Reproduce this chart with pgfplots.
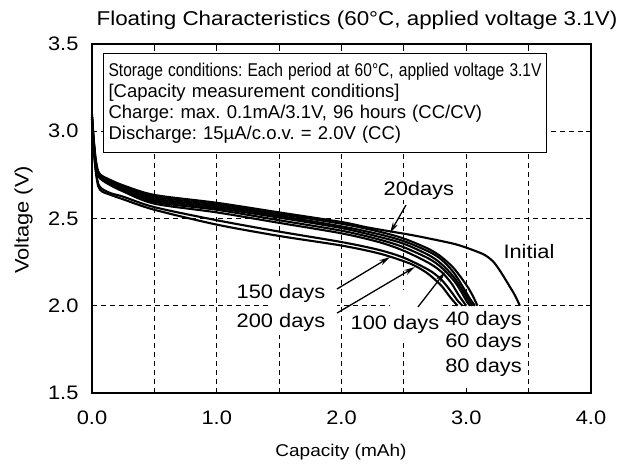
\documentclass[border=0pt]{standalone}
\usepackage{fontspec}
\setmainfont{Liberation Sans}
\newfontfamily\wide{Liberation Sans}[FakeStretch=1.12]
\usepackage{pgfplots}
\pgfplotsset{compat=1.18}
\usetikzlibrary{arrows.meta}

\newcommand{\fs}[1]{\fontsize{#1}{#1}\selectfont}
\newcommand{\ws}[1]{\wide\fontsize{#1}{#1}\selectfont}
\frenchspacing

\begin{document}
\begin{tikzpicture}
\useasboundingbox (-92pt,-73pt) rectangle (530pt,393pt);
\begin{axis}[
    width=499pt, height=349pt, scale only axis,
    xmin=0, xmax=4, ymin=1.5, ymax=3.5,
    xtick={0,1,2,3,4},
    minor xtick={0.5,1.5,2.5,3.5},
    ytick={1.5,2.0,2.5,3.0,3.5},
    grid=both,
    major grid style={black, line width=1pt, dash pattern=on 5pt off 4pt},
    minor grid style={black, line width=1pt, dash pattern=on 5pt off 4pt},
    major tick length=5pt, minor tick length=5pt,
    every tick/.style={black, line width=1pt},
    axis line style={line width=2.4pt},
    tick label style={font=\ws{19.5}},
    /pgf/number format/assume math mode=true,
    xticklabel style={/pgf/number format/.cd, fixed, fixed zerofill, precision=1, /tikz/.cd, yshift=-14pt},
    yticklabel style={/pgf/number format/.cd, fixed, fixed zerofill, precision=1, /tikz/.cd, xshift=-10pt},
    xlabel={Capacity (mAh)},
    ylabel={Voltage (V)},
    xlabel style={font=\ws{17}, at={(axis description cs:0.499,-0.169)}, anchor=center},
    ylabel style={font=\ws{19.5}, at={(axis description cs:-0.137,0.496)}, anchor=center},
    title={Floating Characteristics (60°C, applied voltage 3.1V)},
    title style={font=\ws{20}, at={(axis description cs:0.531,1.05)}, anchor=center},
    clip=false,
]
% Initial
\addplot[black, line width=2.1pt, smooth, tension=0.5] coordinates {
 (0,3.10) (0.012,2.97) (0.03,2.84) (0.05,2.77) (0.08,2.745) (0.15,2.72) (0.25,2.69)
 (0.5,2.635) (1.0,2.59) (1.5,2.535) (2.0,2.48) (2.2,2.45) (2.4,2.425) (2.6,2.40)
 (2.9,2.355) (3.05,2.32) (3.15,2.29) (3.22,2.25) (3.28,2.19) (3.34,2.12) (3.39,2.06) (3.43,2.0)};
% 20 days
\addplot[black, line width=2.1pt, smooth, tension=0.5] coordinates {
 (0,3.09) (0.012,2.96) (0.03,2.83) (0.05,2.765) (0.08,2.74) (0.15,2.715) (0.25,2.685)
 (0.5,2.625) (1.0,2.58) (1.5,2.525) (2.0,2.47) (2.3,2.425) (2.5,2.385) (2.7,2.325)
 (2.8,2.28) (2.9,2.215) (3.0,2.12) (3.05,2.06) (3.09,2.0)};
% 40 days
\addplot[black, line width=2.1pt, smooth, tension=0.5] coordinates {
 (0,3.08) (0.012,2.95) (0.03,2.82) (0.05,2.76) (0.08,2.735) (0.15,2.71) (0.25,2.68)
 (0.5,2.615) (1.0,2.57) (1.5,2.515) (2.0,2.455) (2.3,2.41) (2.5,2.37) (2.7,2.31)
 (2.8,2.265) (2.9,2.19) (2.98,2.10) (3.03,2.04) (3.07,2.0)};
% 60 days
\addplot[black, line width=2.1pt, smooth, tension=0.5] coordinates {
 (0,3.08) (0.012,2.95) (0.03,2.815) (0.05,2.755) (0.08,2.73) (0.15,2.70) (0.25,2.67)
 (0.5,2.605) (1.0,2.56) (1.5,2.505) (2.0,2.445) (2.3,2.395) (2.5,2.355) (2.7,2.29)
 (2.8,2.24) (2.9,2.165) (2.97,2.09) (3.02,2.03) (3.05,2.0)};
% 80 days
\addplot[black, line width=2.1pt, smooth, tension=0.5] coordinates {
 (0,3.07) (0.012,2.94) (0.03,2.81) (0.05,2.75) (0.08,2.725) (0.15,2.695) (0.25,2.665)
 (0.5,2.595) (1.0,2.55) (1.5,2.49) (2.0,2.43) (2.3,2.38) (2.5,2.335) (2.7,2.27)
 (2.8,2.22) (2.9,2.145) (2.96,2.08) (3.0,2.03) (3.03,2.0)};
% 100 days
\addplot[black, line width=2.1pt, smooth, tension=0.5] coordinates {
 (0,3.07) (0.012,2.94) (0.03,2.805) (0.05,2.745) (0.08,2.72) (0.15,2.69) (0.25,2.655)
 (0.5,2.585) (1.0,2.535) (1.5,2.475) (2.0,2.415) (2.3,2.365) (2.5,2.315) (2.7,2.245)
 (2.8,2.195) (2.88,2.13) (2.94,2.06) (3.0,2.0)};
% 150 days
\addplot[black, line width=2.1pt, smooth, tension=0.5] coordinates {
 (0,3.06) (0.012,2.92) (0.03,2.78) (0.05,2.70) (0.08,2.67) (0.15,2.645) (0.25,2.625)
 (0.5,2.565) (1.0,2.49) (1.5,2.425) (2.0,2.365) (2.3,2.32) (2.5,2.275) (2.7,2.205)
 (2.8,2.15) (2.88,2.08) (2.93,2.03) (2.97,2.0)};
% 200 days
\addplot[black, line width=2.1pt, smooth, tension=0.5] coordinates {
 (0,3.05) (0.012,2.91) (0.03,2.77) (0.05,2.685) (0.08,2.655) (0.15,2.635) (0.25,2.61)
 (0.5,2.55) (1.0,2.465) (1.5,2.40) (2.0,2.345) (2.3,2.30) (2.5,2.255) (2.6,2.225)
 (2.7,2.18) (2.8,2.115) (2.87,2.05) (2.93,2.0)};

% conditions box
\node[draw, fill=white, line width=1.2pt, anchor=north west, align=left,
      text width=433pt, inner xsep=5pt, inner ysep=9pt, font=\fontsize{18.5}{21.3}\selectfont]
  at (axis cs:0.088,3.448) {%
  \scalebox{0.84}[1]{Storage conditions: Each period at 60°C, applied voltage 3.1V}\\
  {[}Capacity measurement conditions{]}\\
  Charge: max. 0.1mA/3.1V, 96 hours (CC/CV)\\
  Discharge: 15µA/c.o.v. = 2.0V (CC)};

% white patches behind labels
\fill[white] (axis cs:1.44,1.83) rectangle (axis cs:1.96,2.16);
\fill[white] (axis cs:2.39,1.80) rectangle (axis cs:2.80,2.09);
\fill[white] (axis cs:2.80,1.53) rectangle (axis cs:3.47,1.995);

\begin{scope}[font=\ws{19.5}]
\node[fill=white, inner sep=1pt] at (axis cs:2.62,2.663) {20days};
\node[fill=white, inner sep=1pt] at (axis cs:3.503,2.308) {Initial};
\node at (axis cs:1.515,2.073) {150 days};
\node at (axis cs:1.515,1.907) {200 days};
\node at (axis cs:2.429,1.890) {100 days};
\node[anchor=east, inner sep=1pt] at (axis cs:3.455,1.918) {40 days};
\node[anchor=east, inner sep=1pt] at (axis cs:3.455,1.792) {60 days};
\node[anchor=east, inner sep=1pt] at (axis cs:3.455,1.649) {80 days};
\end{scope}

\begin{scope}[line width=1.3pt, -{Stealth[length=11pt, width=5.5pt]}]
\draw (axis cs:2.517,2.577) -- (axis cs:2.389,2.417);
\draw (axis cs:1.964,2.096) -- (axis cs:2.389,2.279);
\draw (axis cs:1.964,1.958) -- (axis cs:2.589,2.222);
\draw (axis cs:2.613,1.993) -- (axis cs:2.830,2.193);
\end{scope}
\end{axis}
\end{tikzpicture}
\end{document}
